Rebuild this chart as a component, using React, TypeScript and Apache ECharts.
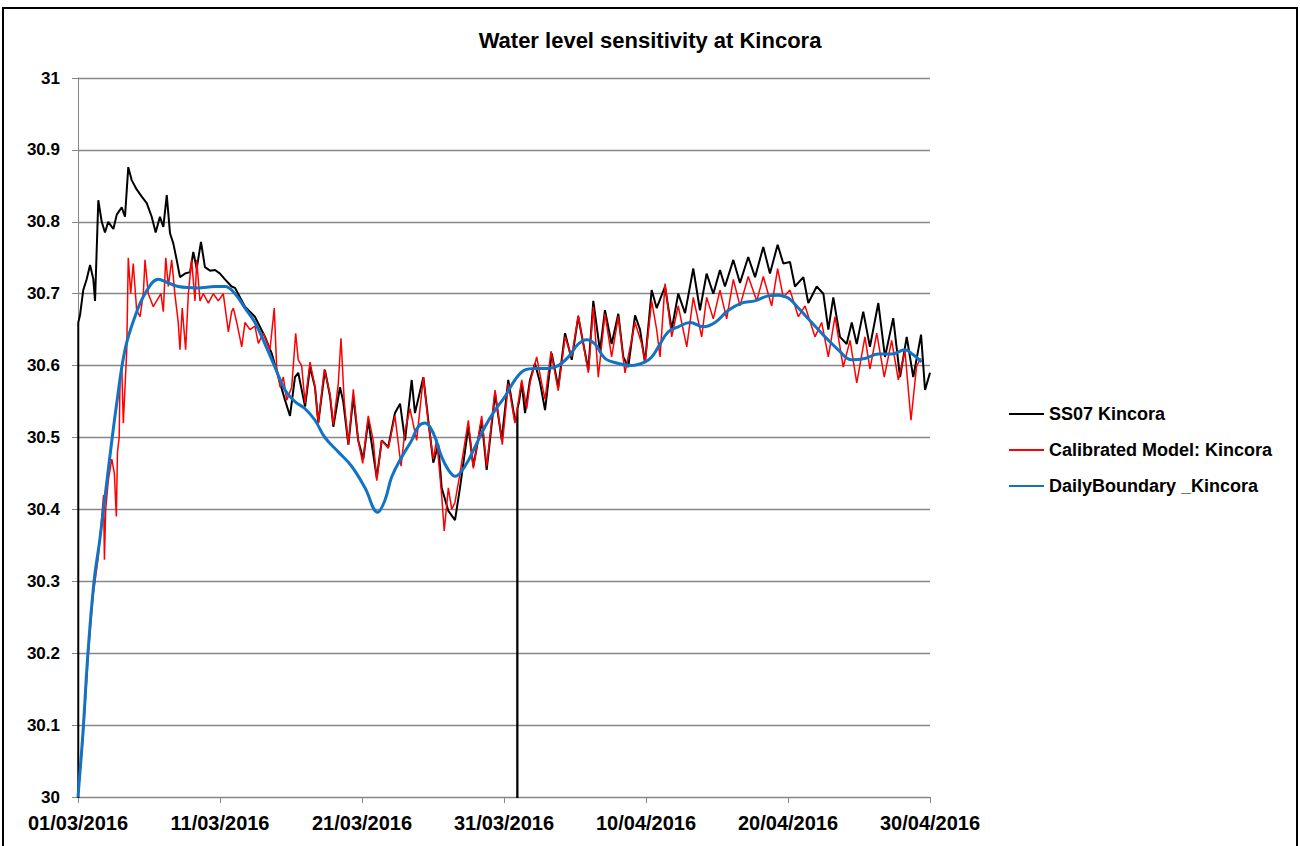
import React, { useEffect, useRef } from "react";
import * as echarts from "echarts";

const titleText = "Water level sensitivity at Kincora";
const xTickLabels = ["01/03/2016", "11/03/2016", "21/03/2016", "31/03/2016", "10/04/2016", "20/04/2016", "30/04/2016"];
const seriesNames = ["SS07 Kincora", "Calibrated Model: Kincora", "DailyBoundary _Kincora"];

// [days since 01/03/2016, water level]
const ss07: [number, number][] = [
  [0, 0], [0.02, 30.66], [0.14, 30.67], [0.37, 30.705], [0.61, 30.72], [0.85, 30.74], [1.08, 30.72], [1.2, 30.69],
  [1.43, 30.83], [1.67, 30.8], [1.9, 30.785], [2.13, 30.8], [2.49, 30.79], [2.73, 30.81], [3.08, 30.82], [3.31, 30.807],
  [3.54, 30.876], [3.78, 30.858], [4.13, 30.845], [4.49, 30.835], [4.84, 30.826], [5.19, 30.807], [5.47, 30.785],
  [5.77, 30.807], [6.01, 30.793], [6.25, 30.837], [6.48, 30.784], [6.71, 30.77], [6.95, 30.747], [7.18, 30.723],
  [7.54, 30.728], [7.89, 30.73], [8.12, 30.758], [8.36, 30.735], [8.66, 30.772], [8.94, 30.737], [9.3, 30.732],
  [9.65, 30.733], [10.0, 30.728], [10.35, 30.72], [10.82, 30.71], [11.06, 30.708], [11.76, 30.682], [12.46, 30.668],
  [13.17, 30.64], [13.64, 30.617], [14.11, 30.584], [14.58, 30.552], [14.93, 30.53], [15.28, 30.584], [15.51, 30.59],
  [15.99, 30.543], [16.34, 30.598], [16.69, 30.57], [16.92, 30.52], [17.39, 30.594], [17.75, 30.557], [17.98, 30.515],
  [18.45, 30.57], [18.68, 30.55], [19.04, 30.49], [19.39, 30.557], [19.74, 30.495], [20.09, 30.47], [20.44, 30.524],
  [21.04, 30.444], [21.39, 30.496], [21.85, 30.487], [22.32, 30.534], [22.68, 30.547], [23.03, 30.496], [23.5, 30.58],
  [23.73, 30.534], [24.32, 30.584], [24.67, 30.524], [25.02, 30.465], [25.37, 30.49], [25.61, 30.43], [26.08, 30.398],
  [26.55, 30.385], [26.9, 30.43], [27.49, 30.515], [27.84, 30.46], [28.43, 30.524], [28.78, 30.455], [29.37, 30.561],
  [29.84, 30.497], [30.3, 30.58], [30.77, 30.524], [30.93, 30.53], [30.94, 0], [30.95, 30.54], [31.06, 30.55],
  [31.25, 30.576], [31.48, 30.534],
  [31.83, 30.58], [32.18, 30.603], [32.54, 30.576], [32.89, 30.538], [33.36, 30.617], [33.82, 30.57], [34.3, 30.645],
  [34.77, 30.608], [35.23, 30.668], [35.58, 30.631], [35.94, 30.594], [36.29, 30.69], [36.76, 30.62], [37.11, 30.677],
  [37.58, 30.63], [38.05, 30.672], [38.4, 30.612], [38.75, 30.598], [39.23, 30.67], [39.58, 30.65], [39.93, 30.604],
  [40.4, 30.705], [40.75, 30.68], [41.34, 30.71], [41.81, 30.65], [42.27, 30.7], [42.75, 30.673], [43.33, 30.735],
  [43.8, 30.677], [44.27, 30.728], [44.74, 30.7], [45.21, 30.733], [45.56, 30.71], [46.15, 30.747], [46.62, 30.715],
  [47.2, 30.751], [47.68, 30.723], [48.26, 30.765], [48.73, 30.728], [49.27, 30.768], [49.67, 30.742], [50.14, 30.744],
  [50.49, 30.71], [51.08, 30.723], [51.43, 30.687], [52.02, 30.71], [52.49, 30.7], [52.84, 30.65], [53.19, 30.695],
  [53.66, 30.64], [54.13, 30.63], [54.49, 30.66], [54.84, 30.63], [55.3, 30.675], [55.77, 30.626], [56.36, 30.687],
  [56.83, 30.612], [57.41, 30.666], [57.89, 30.584], [58.36, 30.64], [58.82, 30.584], [59.37, 30.643], [59.65, 30.566],
  [60.0, 30.59],
];

const calibrated: [number, number][] = [
  [0, 30.0], [0.35, 30.08], [0.73, 30.2], [1.06, 30.28], [1.43, 30.334], [1.55, 30.36], [1.8, 30.42], [1.86, 30.33],
  [1.95, 30.4], [2.13, 30.44], [2.38, 30.47], [2.56, 30.45], [2.7, 30.39], [2.78, 30.48], [2.9, 30.5], [2.96, 30.58],
  [3.08, 30.6], [3.19, 30.52], [3.31, 30.57], [3.43, 30.62], [3.54, 30.75], [3.71, 30.7], [3.89, 30.742], [4.13, 30.677],
  [4.37, 30.668], [4.6, 30.7], [4.72, 30.747], [4.95, 30.7], [5.3, 30.682], [5.54, 30.69], [5.84, 30.7], [6.01, 30.675],
  [6.18, 30.75], [6.36, 30.71], [6.6, 30.747], [6.83, 30.698], [7.06, 30.66], [7.18, 30.622], [7.34, 30.68],
  [7.58, 30.622], [7.77, 30.7], [8.0, 30.747], [8.24, 30.69], [8.36, 30.747], [8.59, 30.69], [8.82, 30.7],
  [9.18, 30.687], [9.53, 30.7], [9.88, 30.69], [10.23, 30.7], [10.59, 30.647], [10.82, 30.675], [10.94, 30.68],
  [11.18, 30.66], [11.53, 30.626], [11.76, 30.66], [12.11, 30.65], [12.46, 30.655], [12.7, 30.631], [13.05, 30.645],
  [13.52, 30.622], [13.82, 30.68], [13.99, 30.598], [14.23, 30.57], [14.46, 30.584], [14.7, 30.552], [15.05, 30.57],
  [15.33, 30.645], [15.51, 30.608], [15.75, 30.6], [15.99, 30.548], [16.34, 30.605], [16.69, 30.57], [16.92, 30.52],
  [17.35, 30.595], [17.75, 30.56], [17.98, 30.518], [18.33, 30.575], [18.52, 30.638], [18.75, 30.55], [19.04, 30.49],
  [19.39, 30.567], [19.74, 30.495], [20.05, 30.464], [20.44, 30.53], [20.8, 30.495], [21.04, 30.44], [21.39, 30.496],
  [21.85, 30.485], [22.32, 30.53], [22.75, 30.46], [23.03, 30.51], [23.38, 30.54], [23.85, 30.496], [24.32, 30.584],
  [24.67, 30.52], [25.02, 30.47], [25.26, 30.497], [25.61, 30.42], [25.79, 30.37], [26.08, 30.43], [26.32, 30.4],
  [26.55, 30.41], [26.9, 30.45], [27.49, 30.524], [27.84, 30.457], [28.43, 30.53], [28.78, 30.46], [29.37, 30.566],
  [29.88, 30.49], [30.3, 30.575], [30.77, 30.52], [31.25, 30.58], [31.6, 30.54], [31.83, 30.576], [32.3, 30.612],
  [32.65, 30.576], [32.89, 30.553], [33.31, 30.62], [33.82, 30.565], [34.3, 30.64], [34.77, 30.612], [35.23, 30.67],
  [35.58, 30.631], [35.94, 30.59], [36.29, 30.682], [36.64, 30.584], [37.11, 30.672], [37.58, 30.612], [38.05, 30.668],
  [38.52, 30.59], [39.23, 30.66], [39.7, 30.63], [39.93, 30.604], [40.4, 30.69], [40.75, 30.65], [40.99, 30.612],
  [41.34, 30.714], [41.81, 30.64], [42.27, 30.683], [42.87, 30.626], [43.33, 30.695], [43.92, 30.64], [44.27, 30.695],
  [44.74, 30.665], [45.21, 30.705], [45.68, 30.665], [46.15, 30.72], [46.62, 30.683], [47.2, 30.724], [47.8, 30.69],
  [48.26, 30.724], [48.85, 30.683], [49.27, 30.735], [49.67, 30.695], [50.14, 30.705], [50.73, 30.668], [51.2, 30.683],
  [51.9, 30.64], [52.37, 30.66], [52.84, 30.612], [53.31, 30.668], [53.89, 30.598], [54.37, 30.635], [54.84, 30.576],
  [55.42, 30.64], [55.77, 30.595], [56.25, 30.645], [56.78, 30.584], [57.3, 30.635], [57.77, 30.58], [58.24, 30.62],
  [58.66, 30.524], [59.06, 30.6], [59.37, 30.61],
];

const dailyBoundary: [number, number][] = [
  [0, 30.0], [0.35, 30.09], [0.7, 30.2], [1.13, 30.3], [1.55, 30.36], [2.13, 30.455], [2.73, 30.548], [3.31, 30.622],
  [4.01, 30.668], [4.72, 30.7], [5.65, 30.72], [6.13, 30.717], [7.06, 30.71], [8.47, 30.708], [9.65, 30.71],
  [10.35, 30.71], [11.06, 30.7], [11.76, 30.68], [12.46, 30.66], [13.17, 30.63], [13.87, 30.598], [14.58, 30.566],
  [15.28, 30.55], [15.99, 30.54], [16.69, 30.524], [17.39, 30.5], [18.33, 30.48], [19.27, 30.46], [20.21, 30.43],
  [21.1, 30.396], [21.62, 30.413], [22.09, 30.445], [22.8, 30.473], [23.5, 30.496], [23.96, 30.515], [24.44, 30.52],
  [25.02, 30.506], [25.61, 30.473], [26.08, 30.455], [26.55, 30.446], [27.25, 30.46], [27.96, 30.487], [28.66, 30.515],
  [29.37, 30.538], [30.07, 30.557], [30.77, 30.58], [31.48, 30.594], [32.18, 30.596], [33.12, 30.596], [33.82, 30.6],
  [34.53, 30.612], [35.23, 30.63], [35.82, 30.636], [36.41, 30.63], [37.11, 30.61], [38.05, 30.603], [38.99, 30.6],
  [39.93, 30.605], [40.4, 30.612], [40.87, 30.626], [41.57, 30.647], [42.27, 30.654], [43.1, 30.66], [44.04, 30.654],
  [44.86, 30.66], [45.8, 30.677], [46.74, 30.687], [47.68, 30.69], [48.61, 30.697], [49.32, 30.698], [50.02, 30.694],
  [50.73, 30.68], [51.67, 30.66], [52.61, 30.64], [53.54, 30.622], [54.49, 30.608], [55.42, 30.61], [56.36, 30.616],
  [57.3, 30.616], [58.24, 30.622], [58.82, 30.615], [59.42, 30.605],
];

const FONT = "'Liberation Sans', Arial, sans-serif";

export default function App() {
  const ref = useRef<HTMLDivElement>(null);
  useEffect(() => {
    if (!ref.current) return;
    const chart = echarts.init(ref.current, undefined, { renderer: "svg" });
    chart.setOption({
      animation: false,
      backgroundColor: "#fff",
      title: {
        text: titleText,
        left: "center",
        top: 24,
        textStyle: { fontFamily: FONT, fontSize: 22, fontWeight: "bold", color: "#000" },
      },
      graphic: [
        {
          type: "rect",
          shape: { x: 3, y: 8, width: 1294, height: 850 },
          style: { fill: "none", stroke: "#000", lineWidth: 2 },
          silent: true,
        },
      ],
      legend: {
        orient: "vertical",
        left: 1003,
        top: 400,
        itemWidth: 35,
        itemHeight: 14,
        itemGap: 18,
        data: seriesNames,
        itemStyle: { opacity: 0 },
        textStyle: { fontFamily: FONT, fontSize: 18, fontWeight: "bold", color: "#000" },
      },
      grid: { left: 78, right: 370, top: 78, bottom: 49, containLabel: false },
      xAxis: {
        type: "value",
        min: 0,
        max: 60,
        interval: 10,
        axisLine: { onZero: false, lineStyle: { color: "#868686", width: 1 } },
        axisTick: { show: true, inside: false, length: 6, lineStyle: { color: "#868686" } },
        splitLine: { show: false },
        axisLabel: {
          margin: 16,
          fontFamily: FONT,
          fontSize: 20,
          fontWeight: "bold",
          color: "#000",
          formatter: (v: number) => xTickLabels[Math.round(v / 10)] ?? "",
        },
      },
      yAxis: {
        type: "value",
        min: 30,
        max: 31,
        interval: 0.1,
        axisLine: { show: true, lineStyle: { color: "#868686", width: 1 } },
        axisTick: { show: true, inside: false, length: 6, lineStyle: { color: "#868686" } },
        splitLine: { show: true, lineStyle: { color: "#868686", width: 1.3 } },
        axisLabel: {
          margin: 18,
          fontFamily: FONT,
          fontSize: 17,
          fontWeight: "bold",
          color: "#000",
        },
      },
      series: [
        {
          name: seriesNames[0],
          type: "line",
          data: ss07,
          showSymbol: false,
          symbol: "none",
          clip: true,
          lineStyle: { color: "#000", width: 2 },
          itemStyle: { color: "#000" },
        },
        {
          name: seriesNames[1],
          type: "line",
          data: calibrated,
          showSymbol: false,
          symbol: "none",
          clip: true,
          lineStyle: { color: "#ff0000", width: 1.5 },
          itemStyle: { color: "#ff0000" },
        },
        {
          name: seriesNames[2],
          type: "line",
          data: dailyBoundary,
          showSymbol: false,
          symbol: "none",
          smooth: 0.4,
          clip: true,
          lineStyle: { color: "#1273c4", width: 3 },
          itemStyle: { color: "#1273c4" },
        },
      ],
    });
    return () => chart.dispose();
  }, []);
  return (
    <div
      ref={ref}
      style={{ position: "absolute", left: 0, top: 0, width: 1300, height: 846, background: "#fff" }}
    />
  );
}
